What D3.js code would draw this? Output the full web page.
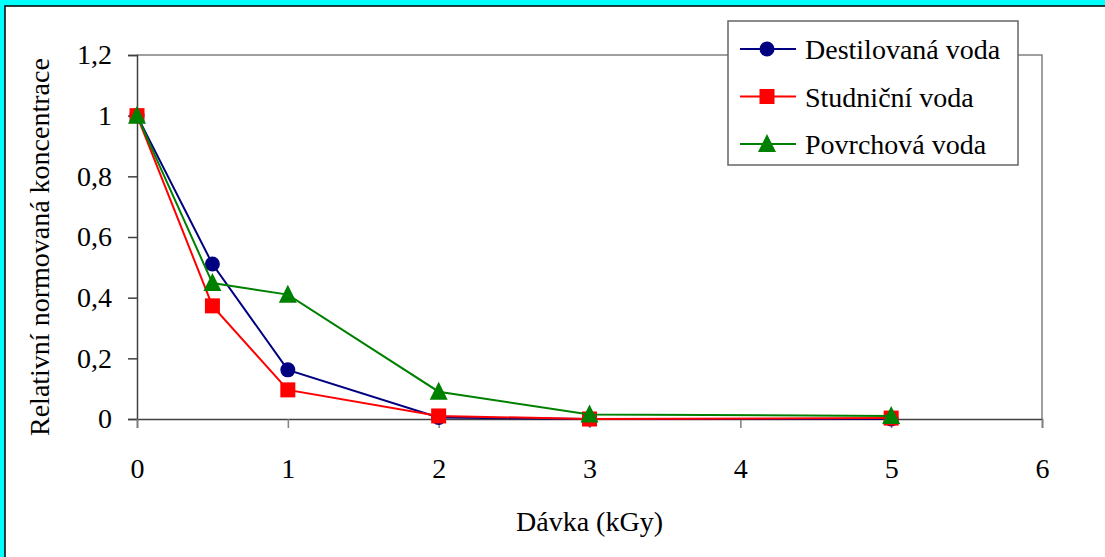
<!DOCTYPE html>
<html>
<head>
<meta charset="utf-8">
<script src="https://cdn.jsdelivr.net/npm/d3@7"></script>
<style>
  body { margin: 0; background: #fff; }
</style>
</head>
<body>
<div id="container"></div>
<script>
// data
const doses = [0, 0.5, 1, 2, 3, 5];
const destilovana = [1, 0.511, 0.162, 0.005, 0, 0];
const studnicni = [1, 0.373, 0.096, 0.01, 0, 0.003];
const povrchova = [1, 0.448, 0.41, 0.09, 0.015, 0.01];
const seriesNames = ["Destilovaná voda", "Studniční voda", "Povrchová voda"];
const xTicks = [0, 1, 2, 3, 4, 5, 6];
const yTicks = [0, 0.2, 0.4, 0.6, 0.8, 1, 1.2];

const W = 1105, H = 557;
const plotL = 137, plotR = 1042, plotT = 55, plotB = 419;
const serif = "'Liberation Serif', 'Times New Roman', Times, 'Nimbus Roman', 'Noto Serif', 'DejaVu Serif', FreeSerif, Tinos, serif";

const svg = d3.select("#container").append("svg")
  .attr("width", W).attr("height", H)
  .style("font-family", serif);

// frame
svg.append("rect").attr("x", 0).attr("y", 0).attr("width", W).attr("height", H).attr("fill", "#00ffff");
svg.append("rect").attr("x", 5).attr("y", 6).attr("width", W).attr("height", H).attr("fill", "#fff")
  .attr("stroke", "#000").attr("stroke-width", 1.5);

const x = d3.scaleLinear().domain([0, 6]).range([plotL, plotR]);
const y = d3.scaleLinear().domain([0, 1.2]).range([plotB, plotT]);

// plot border top and right
svg.append("path")
  .attr("d", `M${plotL},${plotT}H${plotR}V${plotB}`)
  .attr("fill", "none").attr("stroke", "#808080").attr("stroke-width", 1.5);

const fmt = d => String(d).replace(".", ",");

const yAxis = svg.append("g")
  .attr("transform", `translate(${plotL},0)`)
  .call(d3.axisLeft(y).tickValues(yTicks).tickSize(9).tickPadding(16).tickFormat(fmt));
yAxis.select(".domain").attr("stroke", "#404040").attr("stroke-width", 1.5);
yAxis.selectAll(".tick line").attr("stroke", "#404040").attr("stroke-width", 1.5);
yAxis.selectAll("text").attr("font-size", 28).style("font-family", serif).attr("fill", "#000");

const xAxis = svg.append("g")
  .attr("transform", `translate(0,${plotB})`)
  .call(d3.axisBottom(x).tickValues(xTicks).tickSize(9).tickPadding(30).tickFormat(d3.format("d")));
xAxis.select(".domain").attr("stroke", "#404040").attr("stroke-width", 1.5);
xAxis.selectAll(".tick line").attr("stroke", "#808080").attr("stroke-width", 1.5);
xAxis.selectAll("text").attr("font-size", 28).style("font-family", serif).attr("fill", "#000");

// axis titles
svg.append("text")
  .attr("x", (plotL + plotR) / 2).attr("y", 531)
  .attr("text-anchor", "middle").attr("font-size", 28).style("font-family", serif)
  .text("Dávka (kGy)");

svg.append("clipPath").attr("id", "ytitle")
  .append("rect").attr("x", 0).attr("y", 30).attr("width", 120).attr("height", H);
svg.append("g").attr("clip-path", "url(#ytitle)")
  .append("text")
  .attr("transform", "translate(49,436) rotate(-90)")
  .attr("font-size", 28).style("font-family", serif)
  .text("Relativní normovaná koncentrace");

// series
const colors = ["#000080", "#ff0000", "#008000"];
const allSeries = [destilovana, studnicni, povrchova];
const line = d3.line().x((d, i) => x(doses[i])).y(d => y(d));

function marker(g, k, cx, cy) {
  if (k === 0) {
    g.append("circle").attr("cx", cx).attr("cy", cy).attr("r", 7.5).attr("fill", colors[k]);
  } else if (k === 1) {
    g.append("rect").attr("x", cx - 7.5).attr("y", cy - 7.5).attr("width", 15).attr("height", 15).attr("fill", colors[k]);
  } else {
    g.append("path").attr("d", `M${cx},${cy - 10}L${cx + 9},${cy + 8}L${cx - 9},${cy + 8}Z`).attr("fill", colors[k]);
  }
}

allSeries.forEach((vals, k) => {
  const g = svg.append("g");
  g.append("path").datum(vals).attr("d", line)
    .attr("fill", "none").attr("stroke", colors[k]).attr("stroke-width", 2);
  vals.forEach((v, i) => marker(g, k, x(doses[i]), y(v)));
});

// legend
const lg = svg.append("g");
lg.append("rect").attr("x", 728).attr("y", 21).attr("width", 290).attr("height", 144)
  .attr("fill", "#fff").attr("stroke", "#666").attr("stroke-width", 1.5);
seriesNames.forEach((name, k) => {
  const cy = 49 + k * 47.5;
  lg.append("line").attr("x1", 740).attr("x2", 796).attr("y1", cy).attr("y2", cy)
    .attr("stroke", colors[k]).attr("stroke-width", 2);
  marker(lg, k, 767, cy);
  lg.append("text").attr("x", 805).attr("y", cy + 10).attr("font-size", 28).style("font-family", serif).text(name);
});
</script>
</body>
</html>
